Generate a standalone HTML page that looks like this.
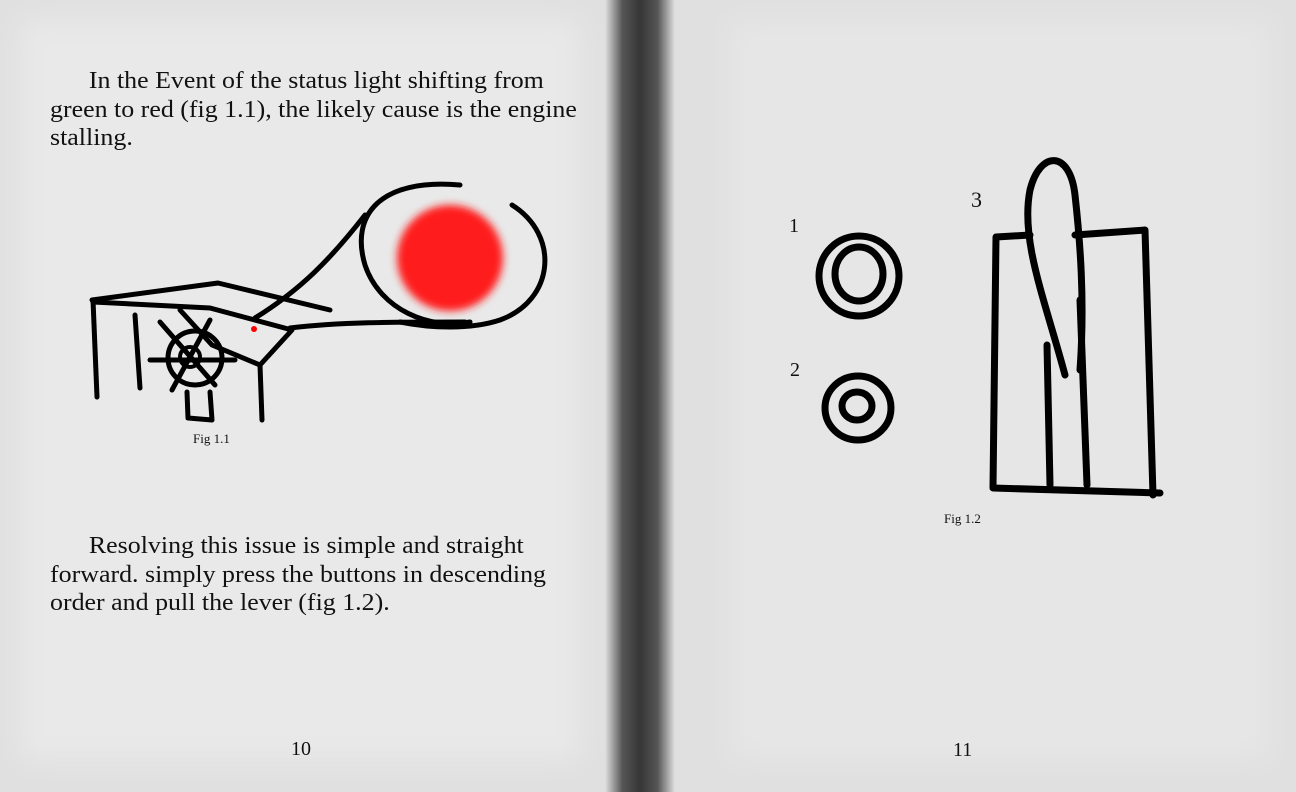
<!DOCTYPE html>
<html><head><meta charset="utf-8"><style>
body{margin:0;width:1296px;height:792px;overflow:hidden;background:#e4e4e4;font-family:"Liberation Serif",serif;}
#wrap{position:relative;width:1296px;height:792px;}
.t{position:absolute;font-size:24px;line-height:28.5px;color:#111;}
.p{transform:scaleX(1.08);transform-origin:0 0;white-space:nowrap;}
.s{position:absolute;font-size:13px;color:#111;}
</style></head><body>
<div id="wrap">
<svg width="1296" height="792" style="position:absolute;left:0;top:0">
<defs>
<filter id="b1"><feGaussianBlur stdDeviation="14"/></filter>
<filter id="b2"><feGaussianBlur stdDeviation="4"/></filter>
<linearGradient id="sp" x1="0" x2="1"><stop offset="0" stop-color="#e0e0e0"/><stop offset="0.25" stop-color="#555"/><stop offset="0.5" stop-color="#363636"/><stop offset="0.75" stop-color="#555"/><stop offset="1" stop-color="#e0e0e0"/></linearGradient>
</defs>
<rect width="1296" height="792" fill="#e0e0e0"/>
<rect x="20" y="20" width="560" height="740" fill="#e9e9e9" filter="url(#b1)"/>
<rect x="730" y="20" width="540" height="740" fill="#e6e6e6" filter="url(#b1)"/>
<rect x="605" y="0" width="70" height="792" fill="url(#sp)"/>
</svg>
<div class="t p" style="left:50px;top:67px">&nbsp;&nbsp;&nbsp;&nbsp;&nbsp;&nbsp;In the Event of the status light shifting from<br>green to red (fig 1.1), the likely cause is the engine<br>stalling.</div>
<div class="t p" style="left:50px;top:532px">&nbsp;&nbsp;&nbsp;&nbsp;&nbsp;&nbsp;Resolving this issue is simple and straight<br>forward. simply press the buttons in descending<br>order and pull the lever (fig 1.2).</div>
<div class="s" style="left:193px;top:431px">Fig 1.1</div>
<div class="s" style="left:944px;top:511px">Fig 1.2</div>
<div class="t" style="left:291px;top:735px;font-size:20px">10</div>
<div class="t" style="left:953px;top:736px;font-size:20px">11</div>
<div class="t" style="left:789px;top:212px;font-size:20px">1</div>
<div class="t" style="left:790px;top:356px;font-size:20px">2</div>
<div class="t" style="left:971px;top:186px;font-size:22px">3</div>
<svg width="1296" height="792" style="position:absolute;left:0;top:0" fill="none" stroke="#000" stroke-linecap="round" stroke-linejoin="round">
<g stroke-width="5">
<circle cx="450" cy="258" r="53" fill="#ff1e1e" stroke="none" filter="url(#b2)"/>
<path d="M460 185 C380 178 350 215 365 265 C380 310 430 330 470 322"/>
<path d="M512 205 C560 235 555 300 500 320 C470 330 430 328 400 322"/>
<path d="M365 215 C330 260 300 290 255 318"/>
<path d="M290 328 C340 322 390 322 465 322"/>
<path d="M92 300 L218 283 L330 310"/>
<path d="M93 300 L97 397"/>
<path d="M93 302 L210 308 L292 330 L260 365 L212 345 L180 310"/>
<path d="M135 315 L140 388"/>
<path d="M260 365 L262 420"/>
<circle cx="195" cy="358" r="27" stroke-width="5"/>
<circle cx="190" cy="357" r="10" stroke-width="4"/>
<path d="M160 322 L215 385 M210 320 L172 390 M150 360 L235 360"/>
<path d="M187 392 L188 418 L212 420 L210 392"/>
</g>
<circle cx="254" cy="329" r="3" fill="#f00" stroke="none"/>
<g stroke-width="7">
<ellipse cx="859" cy="276" rx="40" ry="40"/>
<ellipse cx="859" cy="274" rx="24" ry="27"/>
<ellipse cx="858" cy="408" rx="33" ry="32"/>
<ellipse cx="857" cy="406" rx="15" ry="14"/>
<path d="M1030 235 L996 237 L993 488 L1160 493"/>
<path d="M1075 235 L1145 230 L1153 495"/>
<path d="M1047 345 L1050 485"/>
<path d="M1080 300 L1087 485"/>
<path d="M1065 375 C1045 300 1020 240 1030 190 C1040 150 1070 150 1075 195 C1080 240 1085 300 1080 370"/>
</g>
</svg>
</div>
</body></html>
